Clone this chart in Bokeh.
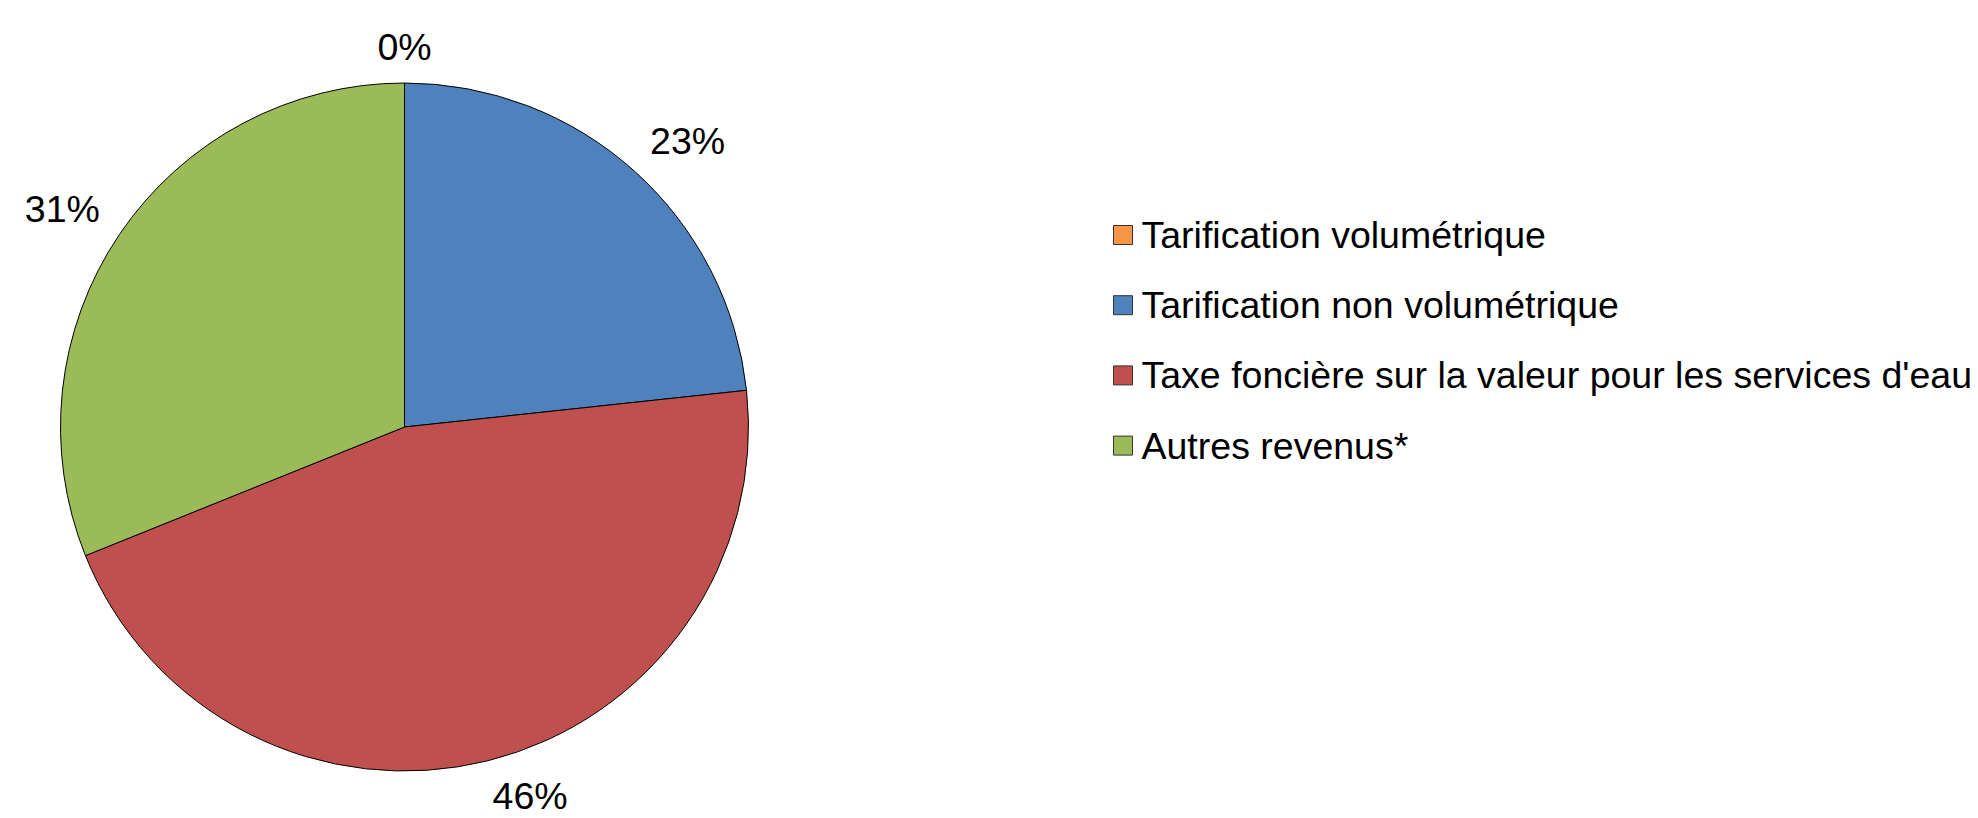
import math
from bokeh.plotting import figure
from bokeh.models import Range1d, ColumnDataSource
from bokeh.core.properties import value
from bokeh.embed import file_html
from bokeh.resources import INLINE

# ---- data ----
categories = [
    "Tarification volumétrique",
    "Tarification non volumétrique",
    "Taxe foncière sur la valeur pour les services d'eau",
    "Autres revenus*",
]
shares = [0.0, 23.3, 45.6, 31.1]
colors = ["#F79646", "#4F81BD", "#C0504D", "#9BBB59"]

# ---- layout (1 data unit = 1 px) ----
W, H = 1978, 818
cx, cy, R = 404.0, 391.5, 344.0
FONT = "Liberation Sans"
FS = 37.5

p = figure(width=W, height=H, x_range=Range1d(0, W), y_range=Range1d(0, H),
           x_axis_type=None, y_axis_type=None, toolbar_location=None,
           output_backend="svg", min_border=0)
p.outline_line_color = None
p.grid.visible = False
p.background_fill_color = "white"
p.border_fill_color = "white"

total = sum(shares)
starts, ends, mids, cols = [], [], [], []
acc = 0.0
for s, c in zip(shares, colors):
    a0 = acc / total * 2 * math.pi
    acc += s
    a1 = acc / total * 2 * math.pi
    mids.append((a0 + a1) / 2)
    if s > 0:
        starts.append(math.pi / 2 - a0)
        ends.append(math.pi / 2 - a1)
        cols.append(c)

src = ColumnDataSource(dict(x=[cx] * len(starts), y=[cy] * len(starts),
                            start=starts, end=ends, color=cols))
p.wedge(x="x", y="y", radius=R, start_angle="start", end_angle="end",
        direction="clock", fill_color="color", line_color="black",
        line_width=1, source=src)

# ---- data labels (outside end: box corner anchored just outside the rim) ----
def clamp(t):
    return max(-1.0, min(1.0, t))

lx, ly, lt = [], [], []
D = R + 23.5
for s, m in zip(shares, mids):
    txt = f"{round(s)}%"
    ndig = len(txt) - 1
    hw = 0.5 * FS * (0.556 * ndig + 0.889)
    hh = 12.5
    sx, sy = math.sin(m), math.cos(m)
    lx.append(cx + D * sx + hw * clamp(4 * sx))
    ly.append(cy + D * sy + hh * clamp(4 * sy))
    lt.append(txt)
p.text(x=lx, y=ly, text=lt, text_align="center", text_baseline="middle",
       text_font=value(FONT), text_font_size=f"{FS}px", text_color="black")

# ---- legend ----
leg_x, leg_y0, leg_dy, sq = 1122.5, 583.5, 70.2, 19
ys = [leg_y0 - i * leg_dy for i in range(len(categories))]
p.rect(x=[leg_x] * len(categories), y=ys, width=sq, height=sq,
       fill_color=colors, line_color="#333333", line_width=1)
p.text(x=[leg_x + 18.5] * len(categories), y=ys, text=categories,
       text_align="left", text_baseline="middle",
       text_font=value(FONT), text_font_size=f"{FS}px", text_color="black")

open("out.html", "w").write(file_html(p, INLINE))
